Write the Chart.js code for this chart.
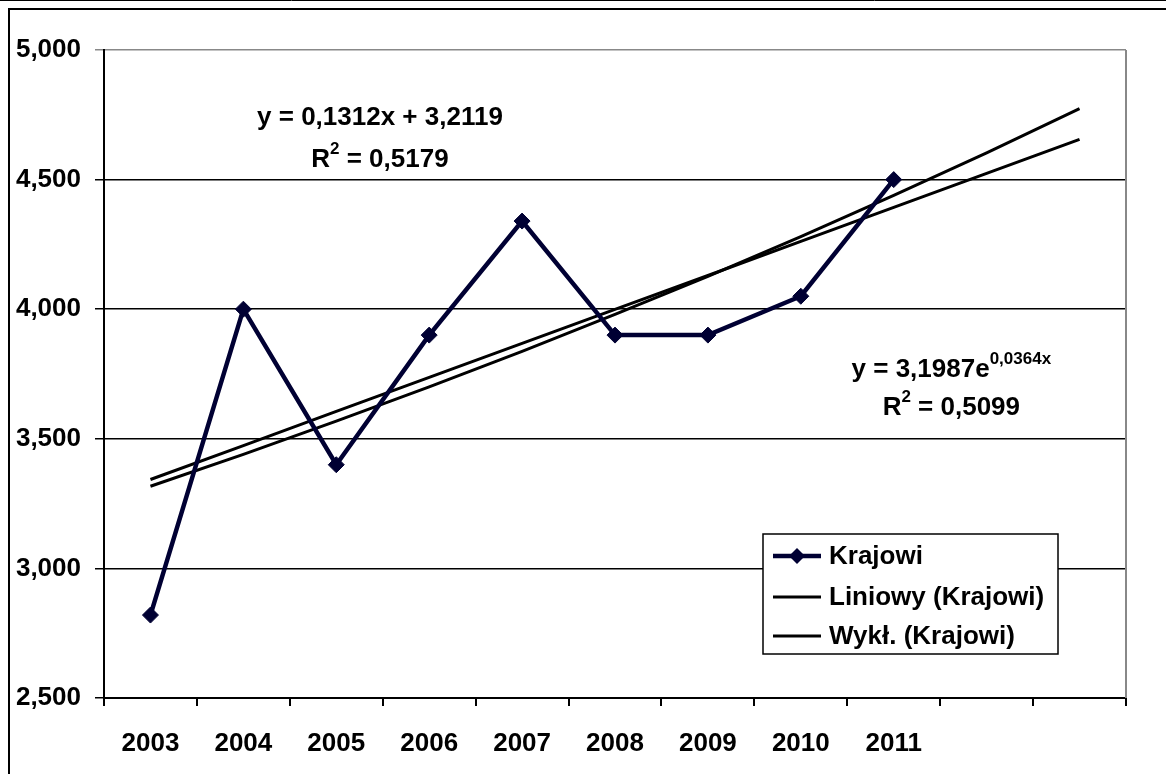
<!DOCTYPE html>
<html lang="pl">
<head>
  <meta charset="UTF-8" />
  <title>Krajowi - trend</title>
  <script src="https://cdn.jsdelivr.net/npm/chart.js"></script>
  <style>
    body {
      margin: 0;
      background: #fff;
    }
    canvas {
      display: block;
    }
  </style>
</head>
<body>

<canvas id="chart" width="1166" height="774"></canvas>

<script>
  // categories (two empty slots at the end for the trend forecast)
  const years = ['2003', '2004', '2005', '2006', '2007', '2008', '2009', '2010', '2011', '', ''];
  const krajowi = [2.82, 4.00, 3.40, 3.90, 4.34, 3.90, 3.90, 4.05, 4.50];
  // trend lines as shown: y = 0,1312x + 3,2119 and y = 3,1987e^0,0364x
  const liniowy = [3.343, 3.474, 3.606, 3.737, 3.868, 3.999, 4.130, 4.262, 4.393, 4.524, 4.655];
  const wykl = [3.317, 3.440, 3.568, 3.700, 3.837, 3.980, 4.127, 4.280, 4.439, 4.603, 4.774];
  const yTicks = [2.5, 3.0, 3.5, 4.0, 4.5, 5.0];
  const legendLabels = ['Krajowi', 'Liniowy (Krajowi)', 'Wykł. (Krajowi)'];

  const FONT = '"Liberation Sans", Arial, sans-serif';
  const navy = '#000033';

  // equation labels placed in data units (category index, value)
  const notes = [
    { x: 2.47, y: 4.738, main: 'y = 0,1312x + 3,2119', sup: null },
    { x: 2.47, y: 4.575, main: 'R', sup: '2', rest: ' = 0,5179' },
    { x: 8.62, y: 3.765, main: 'y = 3,1987e', sup: '0,0364x' },
    { x: 8.62, y: 3.619, main: 'R', sup: '2', rest: ' = 0,5099' }
  ];

  const decor = {
    id: 'decor',
    afterDraw(chart) {
      const ctx = chart.ctx;
      const a = chart.chartArea;
      const xs = chart.scales.x, ys = chart.scales.y;
      ctx.save();

      // outer frame
      ctx.strokeStyle = '#000';
      ctx.lineWidth = 1;
      ctx.beginPath();
      ctx.moveTo(0, 0.5); ctx.lineTo(1166, 0.5);
      ctx.stroke();
      ctx.lineWidth = 2;
      ctx.beginPath();
      ctx.moveTo(9, 774); ctx.lineTo(9, 9); ctx.lineTo(1166, 9);
      ctx.stroke();

      // right border of plot area
      ctx.strokeStyle = '#888';
      ctx.lineWidth = 2;
      ctx.beginPath();
      ctx.moveTo(a.right, a.top); ctx.lineTo(a.right, a.bottom);
      ctx.stroke();

      // equations
      ctx.fillStyle = '#000';
      ctx.textBaseline = 'middle';
      notes.forEach(n => {
        const cx = xs.getPixelForValue(n.x);
        const cy = ys.getPixelForValue(n.y);
        ctx.font = 'bold 26px ' + FONT;
        const w1 = ctx.measureText(n.main).width;
        ctx.font = 'bold 17px ' + FONT;
        const w2 = n.sup ? ctx.measureText(n.sup).width : 0;
        ctx.font = 'bold 26px ' + FONT;
        const w3 = n.rest ? ctx.measureText(n.rest).width : 0;
        let x = cx - (w1 + w2 + w3) / 2;
        ctx.textAlign = 'left';
        ctx.fillText(n.main, x, cy);
        x += w1;
        if (n.sup) {
          ctx.font = 'bold 17px ' + FONT;
          ctx.fillText(n.sup, x, cy - 11);
          x += w2;
        }
        if (n.rest) {
          ctx.font = 'bold 26px ' + FONT;
          ctx.fillText(n.rest, x, cy);
        }
      });

      // legend box
      const lx = 763, ly = 534, lw = 295, lh = 120;
      ctx.fillStyle = '#fff';
      ctx.fillRect(lx, ly, lw, lh);
      ctx.strokeStyle = '#000';
      ctx.lineWidth = 1.5;
      ctx.strokeRect(lx, ly, lw, lh);
      const rows = [556, 597, 636];
      chart.data.datasets.forEach((ds, i) => {
        const y = rows[i];
        ctx.strokeStyle = ds.borderColor;
        ctx.lineWidth = i === 0 ? 4.5 : 3;
        ctx.beginPath();
        ctx.moveTo(773, y); ctx.lineTo(821, y);
        ctx.stroke();
        if (i === 0) {
          ctx.fillStyle = navy;
          ctx.beginPath();
          ctx.moveTo(797, y - 8); ctx.lineTo(805, y); ctx.lineTo(797, y + 8); ctx.lineTo(789, y);
          ctx.closePath();
          ctx.fill();
        }
        ctx.fillStyle = '#000';
        ctx.font = 'bold 26px ' + FONT;
        ctx.textAlign = 'left';
        ctx.fillText(legendLabels[i], 829, y + 1);
      });

      ctx.restore();
    }
  };

  new Chart(document.getElementById('chart'), {
    type: 'line',
    data: {
      labels: years,
      datasets: [
        {
          label: legendLabels[0],
          data: krajowi,
          borderColor: navy,
          backgroundColor: navy,
          borderWidth: 4.5,
          pointStyle: 'rectRot',
          pointRadius: 8,
          pointBorderWidth: 1,
          tension: 0,
          order: 0
        },
        {
          label: legendLabels[1],
          data: liniowy,
          borderColor: '#000',
          borderWidth: 3,
          pointRadius: 0,
          tension: 0,
          order: 1
        },
        {
          label: legendLabels[2],
          data: wykl,
          borderColor: '#000',
          borderWidth: 3,
          pointRadius: 0,
          tension: 0,
          order: 2
        }
      ]
    },
    options: {
      responsive: false,
      animation: false,
      layout: { padding: { top: 50, right: 40, left: 0, bottom: 0 } },
      plugins: {
        legend: { display: false },
        tooltip: { enabled: false }
      },
      scales: {
        x: {
          offset: true,
          afterFit(scale) { scale.height = 76; },
          grid: {
            offset: true,
            drawOnChartArea: false,
            drawTicks: true,
            tickLength: 8,
            color: '#000',
            lineWidth: 2
          },
          border: { color: '#000', width: 2 },
          ticks: {
            color: '#000',
            font: { family: FONT, size: 26, weight: 'bold' },
            padding: 22,
            maxRotation: 0,
            autoSkip: false
          }
        },
        y: {
          min: 2.5,
          max: 5,
          afterFit(scale) { scale.width = 104; },
          afterBuildTicks(scale) { scale.ticks = yTicks.map(v => ({ value: v })); },
          grid: {
            color: c => (c.tick && c.tick.value === 5 ? '#888' : '#000'),
            lineWidth: 1.5,
            tickLength: 9
          },
          border: { color: '#000', width: 2 },
          ticks: {
            color: '#000',
            font: { family: FONT, size: 26, weight: 'bold' },
            padding: 14,
            callback: v => v.toFixed(3).replace('.', ',')
          }
        }
      }
    },
    plugins: [decor]
  });
</script>

</body>
</html>
